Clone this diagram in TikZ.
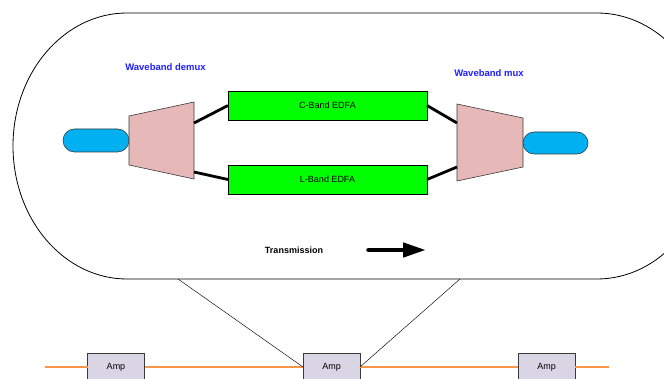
\documentclass[tikz,border=0pt]{standalone}
\usepackage{fontspec}
\setmainfont{Liberation Sans}
\usetikzlibrary{arrows.meta,shapes.misc}
\definecolor{edfagreen}{HTML}{00FF00}
\definecolor{muxpink}{HTML}{E6B9B8}
\definecolor{portblue}{HTML}{00B0F0}
\definecolor{ampfill}{HTML}{DAD5E4}
\definecolor{fibre}{HTML}{F79646}
\definecolor{labelblue}{HTML}{1F1FFF}
\definecolor{edgegray}{HTML}{3A3A3A}
\begin{document}
\begin{tikzpicture}[x=1pt,y=-1pt,
  edfa/.style={draw=black,line width=0.8pt,fill=edfagreen,minimum width=199pt,
    minimum height=29pt,inner sep=0pt,outer sep=0pt,font=\fontsize{9}{10}\selectfont},
  mux/.style={draw=edgegray,line width=0.6pt,fill=muxpink},
  port/.style={rounded rectangle,draw=edgegray,line width=0.6pt,fill=portblue,
    inner sep=0pt,outer sep=0pt},
  amp/.style={draw=edgegray,line width=0.8pt,fill=ampfill,minimum width=57pt,
    minimum height=28pt,inner sep=0pt,outer sep=0pt,font=\fontsize{9}{10}\selectfont},
  band/.style={font=\bfseries\fontsize{9.5}{11}\selectfont,text=labelblue,inner sep=0pt},
  link/.style={line width=2.8pt,black},
  fibreline/.style={line width=2pt,fibre},
  zoomline/.style={line width=0.45pt,black}]
\useasboundingbox (0,0) rectangle (664,379);
\clip (0,0) rectangle (664,379);

% enclosure of the amplifier detail
\draw[line width=0.8pt,black] (127,13) -- (597,13)
  arc[start angle=-90,end angle=90,x radius=114,y radius=133]
  -- (127,279)
  arc[start angle=90,end angle=270,x radius=114,y radius=133] -- cycle;

% waveband demux and mux
\draw[mux] (129,116) -- (194,102) -- (194,179) -- (129,165) -- cycle;
\draw[mux] (457,104) -- (523,118) -- (523,167) -- (457,181) -- cycle;
\coordinate (demuxU) at (194,123);
\coordinate (demuxL) at (194,172);
\coordinate (muxU) at (457,123);
\coordinate (muxL) at (457,167);

% input and output ports
\node[port,minimum width=66pt,minimum height=23pt] (inport) at (96,140.5) {};
\node[port,minimum width=65pt,minimum height=22pt] (outport) at (555.5,143) {};

% amplifiers per band
\node[edfa] (cband) at (327.5,105.5) {C-Band EDFA};
\node[edfa] (lband) at (327.5,179.5) {L-Band EDFA};

\draw[link] (demuxU) -- (cband.west);
\draw[link] (demuxL) -- (lband.west);
\draw[link] (cband.east) -- (muxU);
\draw[link] (lband.east) -- (muxL);

% labels
\node[band] (demuxlabel) at (165.5,67) {Waveband demux};
\node[band] (muxlabel) at (489,73) {Waveband mux};
\node[font=\bfseries\fontsize{9}{10}\selectfont,inner sep=0pt] (txlabel) at (294,250) {Transmission};

% direction of transmission
\coordinate (txS) at (368.5,250);
\coordinate (txE) at (426,250);
\draw[line width=4.5pt,line cap=round,-{Triangle[length=23pt,width=14pt]}] (txS) -- (txE);

% fibre link with amplifiers
\node[amp] (amp1) at (116,367) {Amp};
\node[amp] (amp2) at (331.5,367) {Amp};
\node[amp] (amp3) at (546.5,367) {Amp};
\coordinate (fibreL) at (45,367);
\coordinate (fibreR) at (609,367);
\draw[fibreline] (fibreL) -- (amp1.west);
\draw[fibreline] (amp1.east) -- (amp2.west);
\draw[fibreline] (amp2.east) -- (amp3.west);
\draw[fibreline] (amp3.east) -- (fibreR);

% zoom lines from the enclosure to the middle amplifier
\coordinate (zoomL) at (178,279);
\coordinate (zoomR) at (460,279);
\draw[zoomline] (zoomL) -- (amp2.west);
\draw[zoomline] (zoomR) -- (amp2.east);
\end{tikzpicture}
\end{document}
